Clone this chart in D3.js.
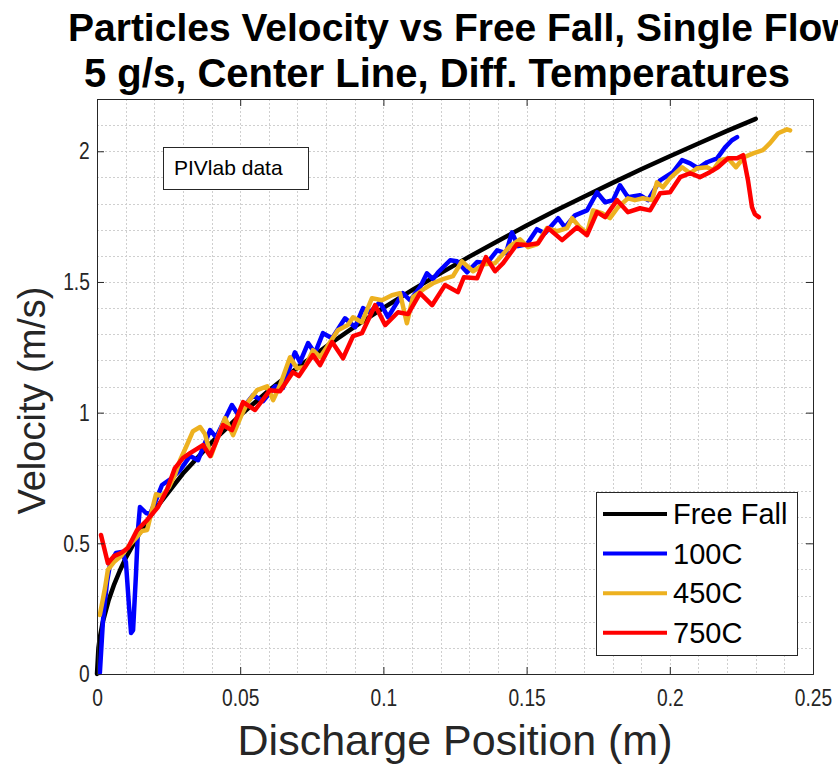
<!DOCTYPE html>
<html>
<head>
<meta charset="utf-8">
<script src="https://cdn.jsdelivr.net/npm/d3@7"></script>
<style>
  body { margin: 0; background: #fff; }
  svg { display: block; font-family: "Liberation Sans", Arial, sans-serif; }
</style>
</head>
<body>
<svg id="chart" width="838" height="765"></svg>
<script>
// free fall reference curve, [position (m), velocity (m/s)]
var freeFall = [[0,0],[0.0005,0.099],[0.001,0.14],[0.002,0.198],[0.004,0.28],[0.006,0.343],[0.008,0.396],
  [0.01,0.443],[0.015,0.542],[0.02,0.626],[0.03,0.767],[0.04,0.886],[0.05,0.99],[0.06,1.085],[0.07,1.172],
  [0.08,1.253],[0.09,1.329],[0.1,1.401],[0.11,1.469],[0.12,1.534],[0.13,1.597],[0.14,1.657],[0.15,1.716],
  [0.16,1.772],[0.17,1.826],[0.18,1.879],[0.19,1.931],[0.2,1.981],[0.21,2.03],[0.22,2.078],[0.23,2.124]];

// PIVlab data, 100C
var t100 = [[0.001,0.004],[0.0021,0.207],[0.0035,0.352],[0.0045,0.417],[0.0066,0.463],[0.0087,0.467],[0.0101,0.428],
  [0.0112,0.256],[0.0119,0.157],[0.0126,0.168],[0.0136,0.379],[0.0143,0.551],[0.015,0.639],[0.0171,0.616],[0.0185,0.612],
  [0.0206,0.665],[0.0227,0.723],[0.0262,0.75],[0.029,0.78],[0.0325,0.834],[0.0353,0.818],[0.0395,0.933],[0.0416,0.906],
  [0.0471,1.029],[0.0492,0.994],[0.0545,1.067],[0.058,1.044],[0.0622,1.101],[0.0649,1.094],[0.0691,1.231],[0.0709,1.193],
  [0.0737,1.266],[0.0761,1.228],[0.0789,1.304],[0.0821,1.285],[0.0866,1.361],[0.0901,1.327],[0.0929,1.4],[0.0953,1.384],
  [0.0988,1.423],[0.1016,1.365],[0.1044,1.415],[0.1068,1.457],[0.1093,1.43],[0.1128,1.48],[0.1152,1.533],[0.1173,1.511],
  [0.1191,1.537],[0.1233,1.583],[0.1257,1.579],[0.1292,1.537],[0.1327,1.576],[0.1362,1.572],[0.1397,1.621],[0.1428,1.61],
  [0.1449,1.69],[0.147,1.637],[0.1501,1.644],[0.1536,1.702],[0.1564,1.686],[0.161,1.744],[0.1634,1.709],[0.1669,1.755],
  [0.1711,1.774],[0.1746,1.843],[0.1774,1.805],[0.1802,1.813],[0.1826,1.87],[0.1854,1.824],[0.1896,1.832],[0.1924,1.813],
  [0.1966,1.889],[0.2011,1.92],[0.2043,1.966],[0.2071,1.954],[0.2098,1.935],[0.213,1.958],[0.2165,1.973],[0.2193,2.015],
  [0.2217,2.042],[0.2235,2.054]];

// 450C
var t450 = [[0.001,0.226],[0.0028,0.329],[0.0038,0.398],[0.0059,0.428],[0.0084,0.451],[0.0108,0.486],[0.0136,0.52],
  [0.0157,0.547],[0.0175,0.551],[0.0192,0.627],[0.0206,0.688],[0.0227,0.681],[0.0251,0.715],[0.0272,0.761],[0.029,0.818],
  [0.0314,0.876],[0.0335,0.929],[0.036,0.945],[0.0377,0.918],[0.0398,0.834],[0.0422,0.906],[0.0447,0.979],[0.0475,0.914],
  [0.0506,0.994],[0.0527,1.04],[0.0559,1.086],[0.0594,1.101],[0.0615,1.048],[0.0639,1.105],[0.0674,1.212],[0.0698,1.17],
  [0.0726,1.174],[0.0754,1.239],[0.0779,1.212],[0.0807,1.258],[0.0841,1.315],[0.0876,1.335],[0.0894,1.365],[0.0925,1.346],
  [0.096,1.438],[0.0995,1.43],[0.103,1.449],[0.1058,1.457],[0.1082,1.342],[0.1103,1.442],[0.1145,1.476],[0.1173,1.495],
  [0.1208,1.511],[0.1243,1.522],[0.1274,1.579],[0.1313,1.541],[0.1351,1.568],[0.139,1.572],[0.1414,1.602],[0.1442,1.637],
  [0.1477,1.663],[0.1505,1.633],[0.1536,1.644],[0.1571,1.706],[0.1606,1.694],[0.1641,1.706],[0.1659,1.744],[0.1686,1.709],
  [0.1711,1.686],[0.1732,1.774],[0.1763,1.763],[0.1791,1.744],[0.1819,1.786],[0.1854,1.82],[0.1878,1.813],[0.1906,1.82],
  [0.1938,1.813],[0.1955,1.881],[0.1976,1.862],[0.2001,1.897],[0.2043,1.939],[0.2071,1.916],[0.2095,1.935],[0.213,1.939],
  [0.2151,1.927],[0.2175,1.966],[0.2203,1.973],[0.2231,1.939],[0.2259,1.977],[0.2291,1.992],[0.2325,2.004],[0.235,2.031],
  [0.2378,2.069],[0.2409,2.084],[0.242,2.08]];

// 750C
var t750 = [[0.0014,0.532],[0.0038,0.424],[0.0059,0.451],[0.0084,0.463],[0.0108,0.482],[0.014,0.551],[0.0175,0.589],
  [0.0213,0.639],[0.0244,0.704],[0.0272,0.788],[0.03,0.826],[0.0325,0.845],[0.037,0.876],[0.0395,0.834],[0.044,0.952],
  [0.0471,0.933],[0.051,1.04],[0.0552,1.01],[0.0604,1.086],[0.0639,1.082],[0.0684,1.155],[0.0705,1.14],[0.0737,1.193],
  [0.0754,1.22],[0.0779,1.182],[0.0821,1.27],[0.0859,1.208],[0.0894,1.293],[0.0925,1.304],[0.0971,1.411],[0.1006,1.335],
  [0.1051,1.384],[0.1086,1.377],[0.1128,1.457],[0.117,1.411],[0.1215,1.488],[0.126,1.461],[0.1281,1.518],[0.1327,1.514],
  [0.1358,1.595],[0.139,1.541],[0.1418,1.572],[0.1466,1.644],[0.1501,1.641],[0.154,1.648],[0.1575,1.706],[0.1624,1.66],
  [0.1676,1.709],[0.1711,1.679],[0.1746,1.767],[0.1774,1.748],[0.1816,1.813],[0.1854,1.767],[0.1896,1.782],[0.1931,1.774],
  [0.1966,1.839],[0.2001,1.843],[0.2036,1.901],[0.2071,1.916],[0.2105,1.901],[0.214,1.92],[0.2168,1.939],[0.2203,1.973],
  [0.2235,1.973],[0.2256,1.985],[0.2273,1.889],[0.2287,1.786],[0.2297,1.759],[0.2311,1.748]];

var seriesNames = ["Free Fall", "100C", "450C", "750C"];
var seriesColors = ["#000000", "#0000ff", "#edb120", "#ff0000"];
var xTicks = [0, 0.05, 0.1, 0.15, 0.2, 0.25];
var yTicks = [0, 0.5, 1, 1.5, 2];

var svg = d3.select("#chart");
// note: "top" is taken by window.top, so plot edges get a prefix
var pLeft = 97, pRight = 813, pTop = 99, pBottom = 674;
var axisColor = "#262626";

var x = d3.scaleLinear().domain([0, 0.25]).range([pLeft, pRight]);
var y = d3.scaleLinear().domain([0, 2.2]).range([pBottom, pTop]);

// grid, major + minor, all dotted
var grid = svg.append("g").attr("stroke", "#cfcfcf").attr("stroke-width", 1).attr("stroke-dasharray", "2,2");
grid.selectAll(".gx").data(d3.range(1, 25).map(function(i){ return i / 100; })).enter().append("line")
  .attr("x1", function(d){ return Math.round(x(d)) + 0.5; }).attr("x2", function(d){ return Math.round(x(d)) + 0.5; })
  .attr("y1", pTop).attr("y2", pBottom);
grid.selectAll(".gy").data(d3.range(1, 22).map(function(i){ return i / 10; })).enter().append("line")
  .attr("y1", function(d){ return Math.round(y(d)) + 0.5; }).attr("y2", function(d){ return Math.round(y(d)) + 0.5; })
  .attr("x1", pLeft).attr("x2", pRight);

// curves
var line = d3.line().x(function(d){ return x(d[0]); }).y(function(d){ return y(d[1]); });
var all = [freeFall, t100, t450, t750];
for (var i = 0; i < all.length; i++) {
  svg.append("path").attr("d", line(all[i])).attr("fill", "none")
    .attr("stroke", seriesColors[i]).attr("stroke-width", 4.5)
    .attr("stroke-linejoin", "round").attr("stroke-linecap", "round");
}

// axes (ticks inside, box on)
function styleAxis(g){
  g.select(".domain").attr("stroke", axisColor);
  g.selectAll(".tick line").attr("stroke", axisColor);
  g.selectAll("text").attr("fill", axisColor).attr("font-size", 24)
    .attr("font-family", "'Liberation Sans', Arial, sans-serif");
}
var fmt = d3.format("~g");
svg.append("g").attr("transform", "translate(0," + pBottom + ")")
  .call(d3.axisBottom(x).tickValues(xTicks).tickSize(-7).tickPadding(15).tickFormat(fmt)).call(styleAxis);
svg.append("g").attr("transform", "translate(" + pLeft + ",0)")
  .call(d3.axisLeft(y).tickValues(yTicks).tickSize(-7).tickPadding(9).tickFormat(fmt)).call(styleAxis);
svg.append("g").attr("transform", "translate(0," + pTop + ")")
  .call(d3.axisTop(x).tickValues(xTicks).tickSize(-7).tickFormat("")).call(styleAxis);
svg.append("g").attr("transform", "translate(" + pRight + ",0)")
  .call(d3.axisRight(y).tickValues(yTicks).tickSize(-7).tickFormat("")).call(styleAxis);
svg.selectAll(".tick text").attr("transform", "scale(0.8,1)");

// axis labels
svg.append("text").attr("x", (pLeft + pRight) / 2).attr("y", 755).attr("text-anchor", "middle")
  .attr("font-size", 43).attr("fill", axisColor).text("Discharge Position (m)");
svg.append("text").attr("transform", "translate(45," + ((pTop + pBottom) / 2 + 14) + ") rotate(-90)")
  .attr("text-anchor", "middle").attr("font-size", 38).attr("fill", axisColor).text("Velocity (m/s)");

// title (first line runs off the right edge, as in the original)
var title = svg.append("text").attr("font-weight", "bold").attr("fill", "#000");
title.append("tspan").attr("x", 68).attr("y", 41).attr("font-size", 39)
  .text("Particles Velocity vs Free Fall, Single Flow");
title.append("tspan").attr("x", 84).attr("y", 87).attr("font-size", 40)
  .text("5 g/s, Center Line, Diff. Temperatures");

// annotation box
svg.append("rect").attr("x", 163.5).attr("y", 147.5).attr("width", 145).attr("height", 42)
  .attr("fill", "#fff").attr("stroke", axisColor);
svg.append("text").attr("x", 174).attr("y", 175).attr("font-size", 21).attr("fill", "#000").text("PIVlab data");

// legend
var legend = svg.append("g");
legend.append("rect").attr("x", 596.5).attr("y", 492.5).attr("width", 201).attr("height", 163)
  .attr("fill", "#fff").attr("stroke", axisColor);
var rows = legend.selectAll(".row").data(seriesNames).enter().append("g")
  .attr("transform", function(d, i){ return "translate(0," + (514 + i * 39.6) + ")"; });
rows.append("line").attr("x1", 603).attr("x2", 667).attr("y1", 0).attr("y2", 0)
  .attr("stroke", function(d, i){ return seriesColors[i]; }).attr("stroke-width", 4);
rows.append("text").attr("x", 673).attr("y", 0).attr("dy", "0.35em").attr("font-size", 29)
  .attr("fill", "#000").text(function(d){ return d; });
</script>
</body>
</html>
